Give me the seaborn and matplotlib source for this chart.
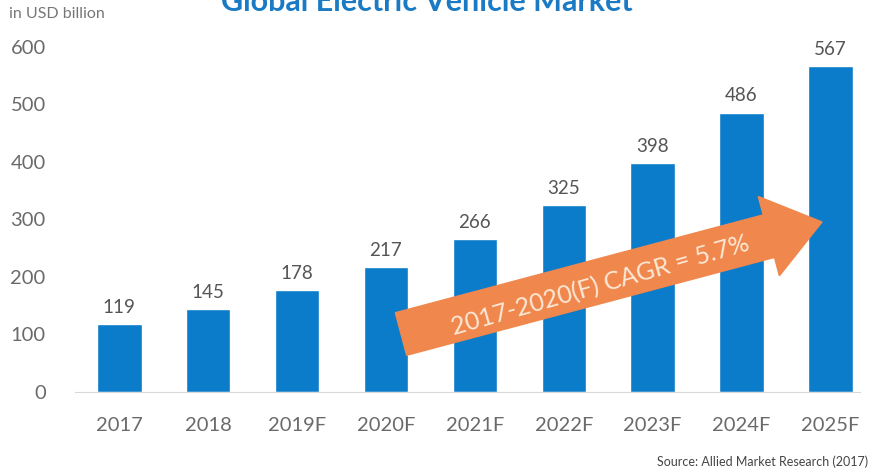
import matplotlib
matplotlib.use('Agg')
import matplotlib.pyplot as plt
import seaborn as sns
from matplotlib.patches import FancyArrow

# Data
years = ['2017', '2018', '2019F', '2020F', '2021F', '2022F', '2023F', '2024F', '2025F']
market_size = [119, 145, 178, 217, 266, 325, 398, 486, 567]

sns.set_style('white')
plt.rcParams['font.family'] = ['Lato', 'DejaVu Sans']

fig = plt.figure(figsize=(8.71, 4.70), dpi=100)
ax = fig.add_axes([0.086, 0.166, 0.901, 0.734])

sns.barplot(x=years, y=market_size, color='#0a7cc9', saturation=1, width=0.5, ax=ax)

for i, v in enumerate(market_size):
    ax.text(i, v + 14, str(v), ha='center', va='bottom', fontsize=13.5, color='#555555')

ax.set_ylim(0, 600)
ax.set_xlim(-0.5, 8.33)
ax.set_yticks(range(0, 601, 100))
ax.tick_params(axis='y', labelsize=14.5, labelcolor='#6a6a6a', pad=21, length=0)
ax.tick_params(axis='x', labelsize=14.5, labelcolor='#6a6a6a', pad=18, length=0)
sns.despine(ax=ax, left=True)
ax.spines['bottom'].set_color('#d9d9d9')

# Title partly cut off at the top, as in the reference
fig.text(0.49, 1 - 11 / 470, 'Global Electric Vehicle Market', ha='center', va='baseline',
         fontsize=22, fontweight='bold', color='#1a7bc4')
fig.text(0.01, 1 - 14 / 470, 'in USD billion', ha='left', va='center', fontsize=11.5, color='#777777')
fig.text(0.997, 1 - 462 / 470, 'Source: Allied Market Research (2017)', ha='right', va='center',
         fontsize=9, color='#444444')

# CAGR arrow (in inches, figure space)
tail = (4.01, 1.36)
tip = (8.22, 2.48)
arrow = FancyArrow(tail[0], tail[1], tip[0] - tail[0], tip[1] - tail[1], width=0.44,
                   head_width=0.82, head_length=0.55, length_includes_head=True,
                   transform=fig.dpi_scale_trans, color='#f0874d', zorder=5)
fig.add_artist(arrow)
fig.text(6.00 / 8.71, 1 - 286 / 470, '2017-2020(F) CAGR = 5.7%', ha='center', va='center',
         rotation=16, fontsize=18, color='#fde8d6', zorder=6)

fig.savefig('out.png', dpi=100)
